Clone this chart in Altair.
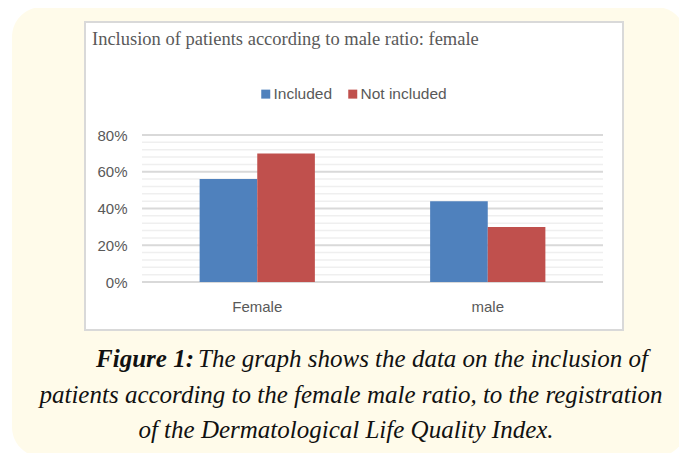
import altair as alt
import pandas as pd

# ---- data ----
categories = ["Female", "male"]
series = ["Included", "Not included"]
included = [0.56, 0.44]
not_included = [0.70, 0.30]
series_colors = ["#4f81bd", "#c0504d"]

chart_title = "Inclusion of patients according to male ratio: female"
caption_bold = "Figure 1:"
caption_line1 = "The graph shows the data on the inclusion of"
caption_line2 = "patients according to the female male ratio, to the registration"
caption_line3 = "of the Dermatological Life Quality Index."

major_ticks = [0.0, 0.2, 0.4, 0.6, 0.8]
minor_ticks = [round(i * 0.04, 2) for i in range(21) if i % 5 != 0]

rows = []
for c, a, b in zip(categories, included, not_included):
    rows.append({"category": c, "series": series[0], "value": a})
    rows.append({"category": c, "series": series[1], "value": b})
df = pd.DataFrame(rows)

W, H = 461, 147
SANS = "Liberation Sans"
SERIF = "Liberation Serif"
GREY = "#595959"

yscale = alt.Scale(domain=[0, 0.8], nice=False)
yaxis = alt.Axis(values=major_ticks, format=".0%", grid=False, domain=False, ticks=False,
                 labelFont=SANS, labelFontSize=15, labelColor=GREY, labelPadding=15,
                 title=None, zindex=1)

one = pd.DataFrame({"k": [0]})

bg = alt.Chart(one).mark_rect(fill="#fffbea", cornerRadius=30).encode(
    x=alt.value(-130), x2=alt.value(544), y=alt.value(-128), y2=alt.value(322))
box = alt.Chart(one).mark_rect(fill="white", stroke="#d9d9d9", strokeWidth=2).encode(
    x=alt.value(-57), x2=alt.value(481), y=alt.value(-113), y2=alt.value(195))

minor = alt.Chart(pd.DataFrame({"v": minor_ticks})).mark_rule(color="#efefef", strokeWidth=1.5).encode(
    y=alt.Y("v:Q", scale=yscale, axis=yaxis), x=alt.value(0), x2=alt.value(W))
major = alt.Chart(pd.DataFrame({"v": major_ticks})).mark_rule(color="#d9d9d9", strokeWidth=2).encode(
    y=alt.Y("v:Q", scale=yscale, axis=yaxis), x=alt.value(0), x2=alt.value(W))

bars = alt.Chart(df).mark_bar().encode(
    x=alt.X("category:N", sort=categories,
            scale=alt.Scale(paddingInner=0.5, paddingOuter=0.25),
            axis=alt.Axis(title=None, labelAngle=0, domain=False, ticks=False, zindex=1,
                          labelFont=SANS, labelFontSize=15, labelColor=GREY, labelPadding=17)),
    xOffset=alt.XOffset("series:N", sort=series, scale=alt.Scale(paddingInner=0, paddingOuter=0)),
    y=alt.Y("value:Q", scale=yscale, axis=yaxis),
    color=alt.Color("series:N", sort=series,
                    scale=alt.Scale(domain=series, range=series_colors),
                    legend=alt.Legend(orient="none", legendX=116, legendY=-49, direction="horizontal",
                                      title=None, symbolType="square", symbolSize=81,
                                      symbolStrokeWidth=0, labelFont=SANS, labelFontSize=15.5,
                                      labelColor=GREY, columnPadding=12, labelOffset=0, padding=0,
                                      zindex=1)),
)

def text_layer(s, x, y, align, size, font, color, style="normal", weight="normal"):
    return alt.Chart(pd.DataFrame({"t": [s]})).mark_text(
        align=align, baseline="alphabetic", font=font, fontSize=size, color=color,
        fontStyle=style, fontWeight=weight).encode(
        text="t:N", x=alt.value(x), y=alt.value(y))

title_t = text_layer(chart_title, -50, -90, "left", 18.5, SERIF, GREY)
cap0 = text_layer(caption_bold, 52, 232, "right", 25, SERIF, "#111111", "italic", "bold")
cap1 = text_layer(caption_line1, 56, 232, "left", 25, SERIF, "#111111", "italic")
cap2 = text_layer(caption_line2, 209, 268, "center", 25, SERIF, "#111111", "italic")
cap3 = text_layer(caption_line3, 204, 303, "center", 25, SERIF, "#111111", "italic")

chart = alt.layer(bg, box, minor, major, bars, title_t, cap0, cap1, cap2, cap3).properties(
    width=W, height=H,
    autosize=alt.AutoSizeParams(type="none"),
    padding={"left": 134, "top": 127, "right": 76, "bottom": 171},
    background="white",
).configure_view(stroke=None)

chart.save("out.html", embed_options={"renderer": "svg", "actions": False})
